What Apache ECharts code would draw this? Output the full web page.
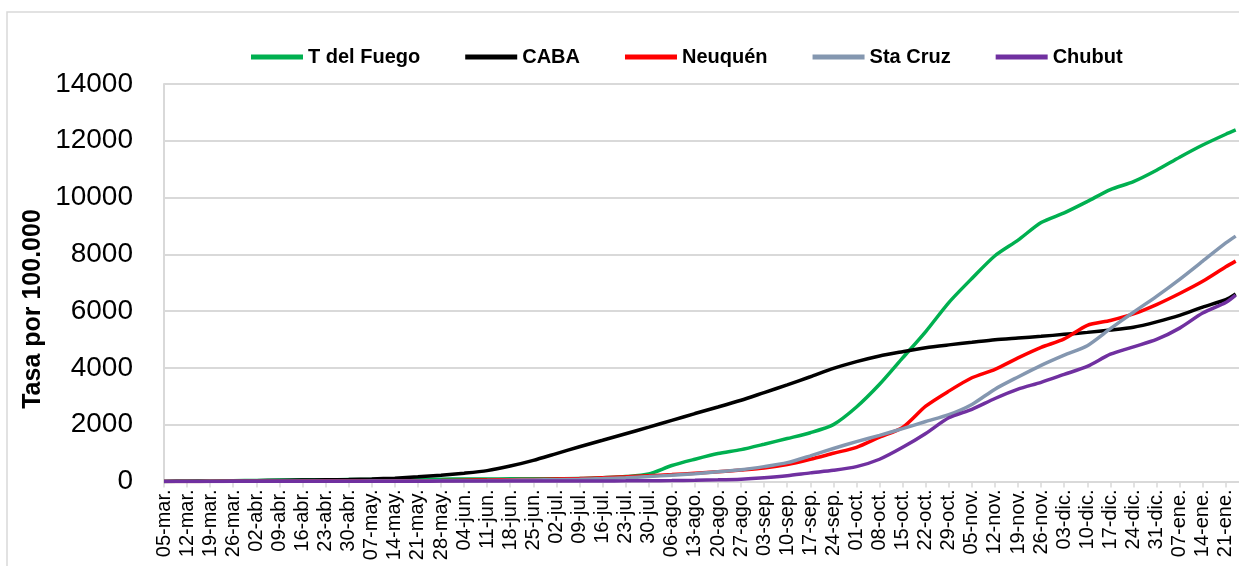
<!DOCTYPE html>
<html>
<head>
<meta charset="utf-8">
<script src="https://cdn.jsdelivr.net/npm/echarts@6/dist/echarts.min.js"></script>
<style>
html,body{margin:0;padding:0;background:#fff;}
#chart{width:1239px;height:566px;}
</style>
</head>
<body>
<div id="chart"></div>
<script>
// Day offsets (from 05-mar) of the sampled points: weekly, plus the last day shown
const dayIndex = [0,7,14,21,28,35,42,49,56,63,70,77,84,91,98,105,112,119,126,133,140,147,154,161,168,175,182,189,196,203,210,217,224,231,238,245,252,259,266,273,280,287,294,301,308,315,322,325];
// Weekly tick labels
const tickLabels = ['05-mar.','12-mar.','19-mar.','26-mar.','02-abr.','09-abr.','16-abr.','23-abr.','30-abr.','07-may.','14-may.','21-may.','28-may.','04-jun.','11-jun.','18-jun.','25-jun.','02-jul.','09-jul.','16-jul.','23-jul.','30-jul.','06-ago.','13-ago.','20-ago.','27-ago.','03-sep.','10-sep.','17-sep.','24-sep.','01-oct.','08-oct.','15-oct.','22-oct.','29-oct.','05-nov.','12-nov.','19-nov.','26-nov.','03-dic.','10-dic.','17-dic.','24-dic.','31-dic.','07-ene.','14-ene.','21-ene.'];

const seriesNames = ['T del Fuego','CABA','Neuquén','Sta Cruz','Chubut'];
const tdelFuego = [0,5,15,25,35,45,55,60,65,70,75,80,80,85,85,90,90,95,100,130,170,260,560,780,980,1120,1310,1510,1714,2000,2620,3420,4350,5280,6300,7150,7950,8500,9120,9460,9860,10280,10560,10960,11420,11850,12230,12380];
const caba = [0,3,8,15,25,35,45,55,65,85,115,160,220,290,380,540,740,980,1220,1450,1680,1910,2150,2390,2620,2860,3130,3400,3686,3980,4220,4420,4570,4710,4810,4900,4990,5050,5110,5180,5250,5330,5430,5620,5850,6140,6400,6600];
const neuquen = [0,0,2,4,6,8,10,12,14,16,20,25,30,40,50,60,70,85,100,130,160,200,240,290,340,400,470,590,778,990,1200,1560,1900,2650,3180,3650,3950,4350,4720,5020,5500,5670,5900,6230,6620,7050,7560,7760];
const staCruz = [0,0,1,2,3,4,5,6,8,10,12,15,20,25,30,40,50,60,75,100,130,170,220,270,340,410,520,660,900,1160,1400,1620,1860,2110,2350,2710,3250,3680,4090,4450,4780,5380,5960,6520,7120,7760,8400,8640];
const chubut = [0,0,0,1,2,3,4,5,6,7,8,9,10,10,11,12,13,14,15,17,20,25,30,40,55,80,130,200,300,390,520,780,1200,1690,2240,2540,2920,3250,3490,3770,4050,4480,4740,5000,5400,5930,6300,6560];
const yTicks = [0,2000,4000,6000,8000,10000,12000,14000];

const colors = ['#00b050','#000000','#ff0000','#8497b0','#7030a0'];
const values = [tdelFuego, caba, neuquen, staCruz, chubut];

const chart = echarts.init(document.getElementById('chart'), null, {renderer:'canvas'});
const fontFam = '"Liberation Sans", Arial, sans-serif';

chart.setOption({
  backgroundColor:'#ffffff',
  animation:false,
  grid:{left:164, right:0, top:84, bottom:84.6, containLabel:false},
  legend:{
    left:246, top:42,
    itemWidth:52, itemHeight:5, itemGap:45,
    icon:'rect',
    data:seriesNames,
    textStyle:{fontFamily:fontFam, fontWeight:'bold', fontSize:20, color:'#000'}
  },
  xAxis:{
    type:'value', min:0, max:326, interval:7,
    axisLine:{show:true, lineStyle:{color:'#d9d9d9', width:2}},
    axisTick:{show:true, length:6, lineStyle:{color:'#d9d9d9', width:1.5}},
    splitLine:{show:false},
    axisLabel:{
      rotate:90, margin:8, fontFamily:fontFam, fontSize:20, color:'#000',
      showMaxLabel:false,
      formatter:function(v){ const i=v/7; return Number.isInteger(i) && tickLabels[i] ? tickLabels[i] : ''; }
    }
  },
  yAxis:{
    type:'value', min:yTicks[0], max:yTicks[yTicks.length-1], interval:2000,
    axisLine:{show:true, lineStyle:{color:'#d9d9d9', width:2}},
    axisTick:{show:false},
    splitLine:{show:true, lineStyle:{color:'#d9d9d9', width:2}},
    axisLabel:{margin:31, fontFamily:fontFam, fontSize:28, color:'#000',
      formatter:function(v){ return String(v); }}
  },
  graphic:[
    {type:'rect', shape:{x:7, y:12, width:1300, height:600}, style:{fill:'none', stroke:'#d9d9d9', lineWidth:1.5}, silent:true, z:-10},
    {type:'text', x:33, y:309, rotation:Math.PI/2,
     style:{text:'Tasa por 100.000', fontFamily:fontFam, fontWeight:'bold', fontSize:25, fill:'#000', textAlign:'center', textVerticalAlign:'middle'}}
  ],
  series: seriesNames.map(function(name, k){
    return {
      name:name, type:'line', showSymbol:false, symbol:'none',
      smooth:0.25,
      data: dayIndex.map(function(d,i){ return [d, values[k][i]]; }),
      lineStyle:{color:colors[k], width:3.5},
      itemStyle:{color:colors[k]},
      z: 2 + k
    };
  })
});
</script>
</body>
</html>
